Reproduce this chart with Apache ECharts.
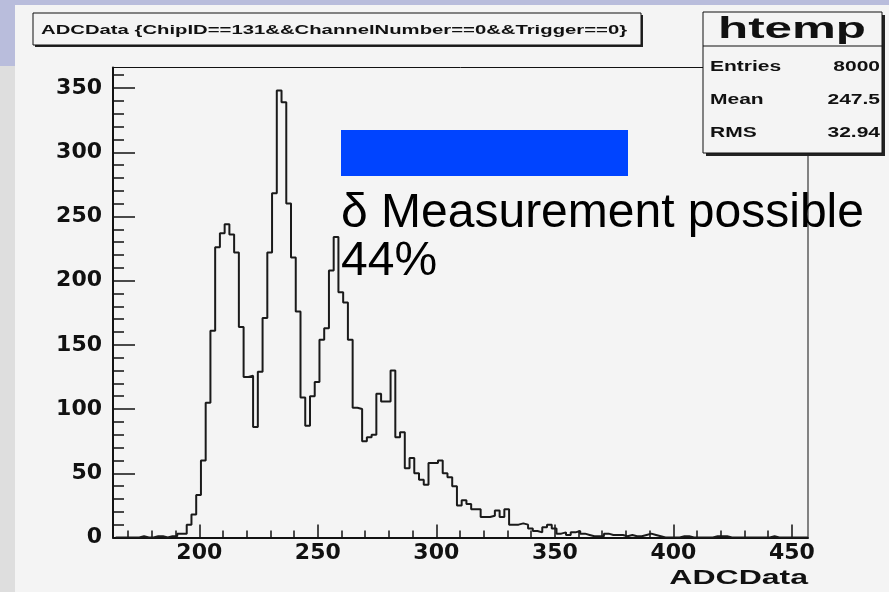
<!DOCTYPE html>
<html>
<head>
<meta charset="utf-8">
<script src="https://cdn.jsdelivr.net/npm/echarts@6/dist/echarts.min.js"></script>
<style>
  html, body { margin: 0; padding: 0; background: #f4f4f4; }
  #chart { width: 889px; height: 592px; }
</style>
</head>
<body>
<div id="chart"></div>
<script>
// ---- data ----
const xRange = [163.6, 456.8];
const yRange = [0, 366];
const binStart = 164.7;
const binWidth = 2;
const binCounts = [
  0, 0, 0, 0, 0, 1, 0, 0, 1, 1,
  0, 1, 1, 3, 3, 10, 18, 33, 60, 105,
  161, 226, 237, 244, 236, 222, 164, 125, 126, 86,
  129, 171, 222, 268, 348, 339, 260, 218, 176, 109,
  87, 110, 121, 154, 163, 208, 234, 191, 183, 154,
  101, 100, 75, 78, 80, 112, 106, 106, 130, 78,
  82, 54, 62, 50, 45, 41, 58, 58, 60, 50,
  47, 40, 25, 29, 26, 22, 22, 16, 16, 17,
  21, 16, 22, 10, 10, 11, 10, 7, 5, 4,
  8, 10, 7, 3, 4, 2, 4, 5, 3, 2,
  1, 1, 1, 3, 2, 2, 2, 1, 2, 1,
  1, 2, 3, 2, 1, 0, 0, 0, 0, 1,
  1, 0, 0, 0, 0, 0, 1, 1, 1, 0,
  0, 0, 0, 0, 0, 0, 0, 0, 1, 0,
  0, 0, 0, 0, 0, 0
];
const xMajorTicks = [200, 250, 300, 350, 400, 450];
const xMinorTicks = [170, 180, 190, 210, 220, 230, 240, 260, 270, 280, 290, 310, 320, 330, 340, 360, 370, 380, 390, 410, 420, 430, 440];
const yMajorTicks = [0, 50, 100, 150, 200, 250, 300, 350];
const yMinorTicks = [10, 20, 30, 40, 60, 70, 80, 90, 110, 120, 130, 140, 160, 170, 180, 190, 210, 220, 230, 240, 260, 270, 280, 290, 310, 320, 330, 340, 360];
const titleText = 'ADCData {ChipID==131&&ChannelNumber==0&&Trigger==0}';
const xAxisTitle = 'ADCData';
const statsName = 'htemp';
const statsLabels = ['Entries', 'Mean', 'RMS'];
const statsValues = ['8000', '247.5', '32.94'];
const noteLines = ['δ Measurement possible', '44%'];

// ---- build histogram outline from bins ----
const histData = binCounts.map((c, i) => [binStart + i * binWidth, c]);
histData.push([binStart + binCounts.length * binWidth, binCounts[binCounts.length - 1]]);

const chart = echarts.init(document.getElementById('chart'), null, { renderer: 'canvas' });

const labelFont = { fontFamily: 'DejaVu Sans', fontWeight: 'bold', fontSize: 22, color: '#111' };
const axisLineStyle = { color: '#111', width: 2 };

function statsRow(label, value, y) {
  return [
    { type: 'text', x: 710, y: y, scaleX: 1.5, z: 20,
      style: { text: label, font: 'bold 14px "Liberation Sans"', fill: '#111', verticalAlign: 'middle', align: 'left' } },
    { type: 'text', x: 880, y: y, scaleX: 1.5, z: 20,
      style: { text: value, font: 'bold 14px "Liberation Sans"', fill: '#111', verticalAlign: 'middle', align: 'right' } }
  ];
}

const option = {
  backgroundColor: '#f4f4f4',
  animation: false,
  grid: { left: 113, right: 81, top: 67.5, bottom: 54.5, show: true, borderColor: '#111', borderWidth: 1, backgroundColor: 'transparent' },
  xAxis: [
    {
      type: 'value', min: xRange[0], max: xRange[1], position: 'bottom',
      axisLine: { show: true, onZero: false, lineStyle: axisLineStyle },
      axisTick: { show: true, inside: true, length: 13, customValues: xMajorTicks, lineStyle: { color: '#111', width: 1.5 } },
      axisLabel: Object.assign({ show: true, margin: 5, customValues: xMajorTicks }, labelFont),
      splitLine: { show: false }
    },
    {
      type: 'value', min: xRange[0], max: xRange[1], position: 'bottom',
      axisLine: { show: false },
      axisTick: { show: true, inside: true, length: 7, customValues: xMinorTicks, lineStyle: { color: '#111', width: 1.5 } },
      axisLabel: { show: false },
      splitLine: { show: false }
    }
  ],
  yAxis: [
    {
      type: 'value', min: yRange[0], max: yRange[1], position: 'left',
      axisLine: { show: true, onZero: false, lineStyle: axisLineStyle },
      axisTick: { show: true, inside: true, length: 22, customValues: yMajorTicks, lineStyle: { color: '#111', width: 1.5 } },
      axisLabel: Object.assign({ show: true, margin: 11, customValues: yMajorTicks }, labelFont),
      splitLine: { show: false }
    },
    {
      type: 'value', min: yRange[0], max: yRange[1], position: 'left',
      axisLine: { show: false },
      axisTick: { show: true, inside: true, length: 11, customValues: yMinorTicks, lineStyle: { color: '#111', width: 1.5 } },
      axisLabel: { show: false },
      splitLine: { show: false }
    }
  ],
  series: [{
    type: 'line', xAxisIndex: 0, yAxisIndex: 0, step: 'end', data: histData,
    showSymbol: false, symbol: 'none', silent: true,
    lineStyle: { color: '#1a1a1a', width: 2 }, z: 5
  }],
  graphic: [
    // slide background bands
    { type: 'rect', z: 1, shape: { x: 0, y: 0, width: 889, height: 5 }, style: { fill: '#b9bddc' } },
    { type: 'rect', z: 1, shape: { x: 0, y: 0, width: 15, height: 66 }, style: { fill: '#b9bddc' } },
    { type: 'rect', z: 1, shape: { x: 0, y: 66, width: 15, height: 526 }, style: { fill: '#dedede' } },
    // title box
    { type: 'rect', z: 18, shape: { x: 35, y: 15, width: 608, height: 32 }, style: { fill: '#222' } },
    { type: 'rect', z: 19, shape: { x: 33, y: 13, width: 608, height: 32 }, style: { fill: '#f4f4f4', stroke: '#111', lineWidth: 1 } },
    { type: 'text', z: 20, x: 41, y: 30, scaleX: 1.56,
      style: { text: titleText, font: 'bold 13px "Liberation Sans"', fill: '#111', verticalAlign: 'middle', align: 'left' } },
    // stats box
    { type: 'rect', z: 18, shape: { x: 706, y: 15, width: 179, height: 141 }, style: { fill: '#222' } },
    { type: 'rect', z: 19, shape: { x: 703, y: 12, width: 179, height: 141 }, style: { fill: '#f4f4f4', stroke: '#111', lineWidth: 1 } },
    { type: 'line', z: 20, shape: { x1: 703, y1: 46, x2: 882, y2: 46 }, style: { stroke: '#111', lineWidth: 1 } },
    { type: 'text', z: 20, x: 792, y: 30, scaleX: 1.7,
      style: { text: statsName, font: 'bold 29px "Liberation Sans"', fill: '#111', verticalAlign: 'middle', align: 'center' } },
    ...statsRow(statsLabels[0], statsValues[0], 67),
    ...statsRow(statsLabels[1], statsValues[1], 100),
    ...statsRow(statsLabels[2], statsValues[2], 133),
    // x axis title
    { type: 'text', z: 20, x: 808, y: 578, scaleX: 1.6,
      style: { text: xAxisTitle, font: 'bold 20px "Liberation Sans"', fill: '#111', verticalAlign: 'middle', align: 'right' } },
    // slide annotation
    { type: 'rect', z: 21, shape: { x: 341, y: 130, width: 287, height: 46 }, style: { fill: '#0044ff' } },
    { type: 'text', z: 21, x: 341, y: 190,
      style: { text: noteLines.join('\n'), font: '48px "Liberation Sans"', lineHeight: 48, fill: '#000', verticalAlign: 'top', align: 'left' } }
  ]
};
chart.setOption(option);
</script>
</body>
</html>
